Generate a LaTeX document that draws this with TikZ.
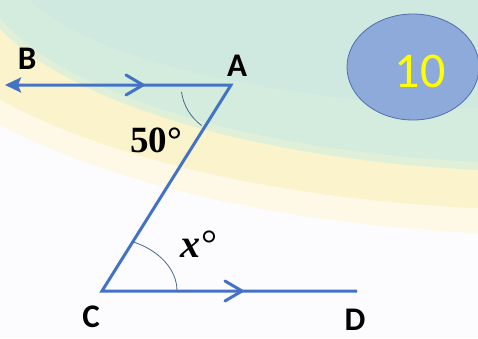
\RequirePackage{fix-cm}
\documentclass[tikz,border=0pt]{standalone}
\usepackage{fontspec}
\setmainfont{Carlito}
\newfontfamily\serifb{Liberation Serif}
\usepackage{amsmath,graphicx}
\usetikzlibrary{arrows.meta,shapes.geometric}
\definecolor{bgwhite}{HTML}{FCFBFD}
\definecolor{bgyellowsoft}{HTML}{FDF9E6}
\definecolor{bgyellow}{HTML}{FBF3CB}
\definecolor{bggreensoft}{HTML}{E0F0D8}
\definecolor{bggreen}{HTML}{D3ECDE}
\definecolor{bggreentop}{HTML}{CFE8E0}
\definecolor{segblue}{HTML}{4472C4}
\definecolor{arcblue}{HTML}{4A6890}
\definecolor{ellfill}{HTML}{8EAADB}
\definecolor{elldraw}{HTML}{4F6FAE}
\definecolor{numyellow}{HTML}{FFFF00}
\tikzset{
  seg/.style={draw=segblue, line width=3pt, line join=miter},
  chev/.style={draw=segblue, line width=3pt, line cap=round, line join=round},
  anglearc/.style={draw=arcblue, line width=0.8pt},
  lbl/.style={font=\bfseries\fontsize{33}{33}\selectfont, text=black, inner sep=0pt},
}
\begin{document}
\begin{tikzpicture}[x=1pt,y=1pt]
\useasboundingbox (0,0) rectangle (478,338);
\clip (0,0) rectangle (478,338);
% background
\fill[bgwhite] (0,0) rectangle (478,338);
\fill[bgyellowsoft] (560,378) ellipse [x radius=700, y radius=275];
\fill[bgyellow] (560,378) ellipse [x radius=675, y radius=250];
\fill[bggreensoft] (560,378) ellipse [x radius=592, y radius=212];
\fill[bggreen] (560,378) ellipse [x radius=584, y radius=204];
\fill[bggreentop] (560,378) ellipse [x radius=550, y radius=150];
% points
\coordinate (B) at (5,253);
\coordinate (A) at (231,253);
\coordinate (C) at (102,47);
\coordinate (D) at (357,47);
% segments
\draw[seg, {Stealth[length=16pt,width=15pt,inset=3pt]}-] (B) -- (A) -- (C) -- (D);
% parallel marks
\coordinate (m1) at (143,253);
\coordinate (m2) at (242,47);
\draw[chev] (m1) ++(-17,10) -- (m1) -- ++(-17,-10);
\draw[chev] (m2) ++(-17,10) -- (m2) -- ++(-17,-10);
% angle arcs
\draw[anglearc] ([shift={(188:50)}]A) arc[start angle=188, end angle=234, radius=50];
\draw[anglearc] ([shift={(75,0)}]C) arc[start angle=0, end angle=66, x radius=75, y radius=54];
% labels
\node[lbl] (nB) at (27,279) {B};
\node[lbl] (nA) at (237,272) {A};
\node[lbl] (nC) at (91,21) {C};
\node[lbl] (nD) at (355,18) {D};
\node[font=\serifb\bfseries\fontsize{37}{37}\selectfont, anchor=base, inner sep=0pt] (n50) at (156,186) {50°};
\node[font=\serifb\fontsize{40}{40}\selectfont, anchor=base west, inner sep=0pt] (nx) at (180,81) {{\bfseries\itshape x}\kern1pt°};
% number badge
\node[ellipse, draw=elldraw, fill=ellfill, line width=0.8pt, minimum width=132pt, minimum height=106pt, inner sep=0pt] (ell) at (413,271) {};
\node[font=\fontsize{50}{50}\selectfont, text=numyellow, inner sep=0pt] (n10) at (420,267) {10};
\end{tikzpicture}
\end{document}
